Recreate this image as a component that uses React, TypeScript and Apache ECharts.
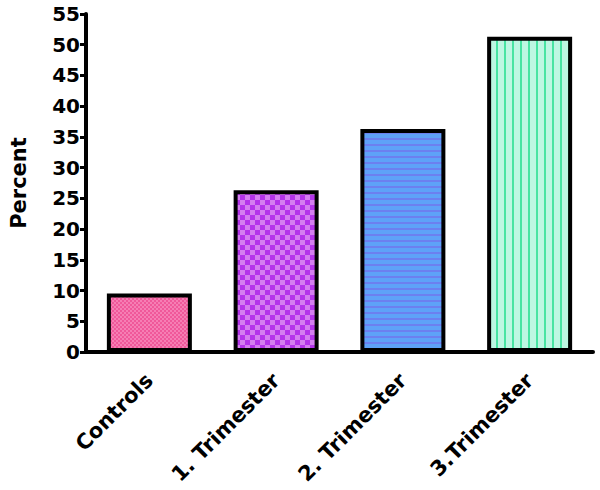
import React, { useEffect, useRef } from "react";
import * as echarts from "echarts";

const categories = ["Controls", "1. Trimester", "2. Trimester", "3.Trimester"];
const values = [9.5, 26.3, 36.3, 51.3];
const yTicks = { min: 0, max: 55, interval: 5 };

function makePattern(kind: number): string {
  const c = document.createElement("canvas");
  const ctx = c.getContext("2d")!;
  if (kind === 0) {
    c.width = 4; c.height = 4;
    ctx.fillStyle = "#F0589A"; ctx.fillRect(0, 0, 4, 4);
    ctx.fillStyle = "#F67EB4"; ctx.fillRect(0, 0, 2, 2); ctx.fillRect(2, 2, 2, 2);
  } else if (kind === 1) {
    c.width = 10; c.height = 10;
    ctx.fillStyle = "#B434EA"; ctx.fillRect(0, 0, 10, 10);
    ctx.fillStyle = "#D47EF0"; ctx.fillRect(0, 0, 5, 5); ctx.fillRect(5, 5, 5, 5);
  } else if (kind === 2) {
    c.width = 6; c.height = 6;
    ctx.fillStyle = "#5EA2F8"; ctx.fillRect(0, 0, 6, 6);
    ctx.fillStyle = "#6C80F0"; ctx.fillRect(0, 0, 6, 2);
  } else {
    c.width = 8; c.height = 8;
    ctx.fillStyle = "#BDF7E2"; ctx.fillRect(0, 0, 8, 8);
    ctx.fillStyle = "#48E4A2"; ctx.fillRect(0, 0, 2, 8);
  }
  return c.toDataURL();
}

export default function App() {
  const ref = useRef<HTMLDivElement>(null);
  useEffect(() => {
    const chart = echarts.init(ref.current!, null, { renderer: "svg" });
    const font = "'DejaVu Sans', Arial, sans-serif";
    chart.setOption({
      animation: false,
      backgroundColor: "#ffffff",
      grid: { left: 86, right: 7, top: 14, bottom: 138 },
      xAxis: {
        type: "category",
        data: categories,
        axisLine: { lineStyle: { color: "#000", width: 4 } },
        axisTick: { alignWithLabel: true, length: 9, lineStyle: { color: "#000", width: 4 } },
        axisLabel: {
          rotate: 45,
          margin: 25,
          color: "#000",
          fontSize: 21,
          fontWeight: "bold",
          fontFamily: font,
        },
      },
      yAxis: {
        type: "value",
        min: yTicks.min,
        max: yTicks.max,
        interval: yTicks.interval,
        name: "Percent",
        nameLocation: "middle",
        nameRotate: 90,
        nameGap: 57,
        nameTextStyle: { color: "#000", fontSize: 21, fontWeight: "bold", fontFamily: font },
        splitLine: { show: false },
        axisLine: { show: true, lineStyle: { color: "#000", width: 4 } },
        axisTick: { show: true, length: 6, lineStyle: { color: "#000", width: 3 } },
        axisLabel: { color: "#000", fontSize: 20, fontWeight: "bold", fontFamily: font, margin: 6 },
      },
      series: [
        {
          type: "bar",
          barWidth: 85,
          data: values.map((v, i) => ({
            value: v,
            itemStyle: {
              color: { image: makePattern(i), repeat: "repeat" },
              borderColor: "#000",
              borderWidth: 4,
            },
          })),
        },
      ],
    });
    return () => chart.dispose();
  }, []);
  return (
    <div
      ref={ref}
      style={{ position: "fixed", left: 0, top: 0, width: 600, height: 490 }}
    />
  );
}
